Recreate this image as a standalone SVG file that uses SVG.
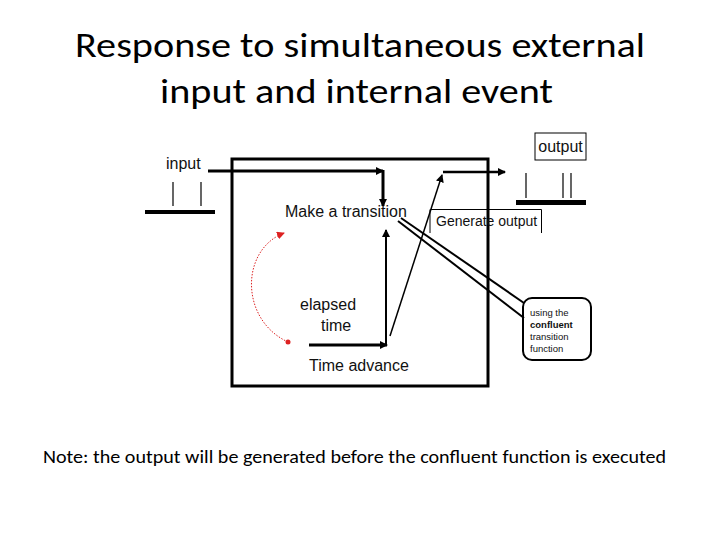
<svg xmlns="http://www.w3.org/2000/svg" width="720" height="540" viewBox="0 0 720 540">
<defs>
<style>
.t{font-family:"Liberation Sans",Arial,sans-serif;fill:#111}
.ttl{font-family:Carlito,Calibri,"Liberation Sans",sans-serif;fill:#000}
.ln{stroke:#000;fill:none}
</style>
<marker id="ah" markerWidth="8" markerHeight="8" refX="7" refY="4" orient="auto" markerUnits="userSpaceOnUse">
<path d="M0,0 L8,4 L0,8 Z" fill="#000"/>
</marker>
<marker id="ahr" markerWidth="8" markerHeight="8" refX="7" refY="4" orient="auto" markerUnits="userSpaceOnUse">
<path d="M0,0 L8,4 L0,8 Z" fill="#d22"/>
</marker>
</defs>
<rect width="720" height="540" fill="#fff"/>
<g id="title">
<text class="ttl" x="75" y="57" font-size="35" textLength="570" lengthAdjust="spacingAndGlyphs">Response to simultaneous external</text>
<text class="ttl" x="160" y="103" font-size="35" textLength="393" lengthAdjust="spacingAndGlyphs">input and internal event</text>
</g>
<g id="model-box">
<rect x="232" y="159" width="256" height="227" fill="none" stroke="#000" stroke-width="3"/>
</g>
<g id="input">
<text class="t" x="166" y="169" font-size="16">input</text>
<line class="ln" x1="173" y1="182" x2="173" y2="206" stroke-width="1.2"/>
<line class="ln" x1="201" y1="182" x2="201" y2="206" stroke-width="1.2"/>
<line class="ln" x1="145" y1="212" x2="215" y2="212" stroke-width="4"/>
</g>
<g id="output">
<rect x="535" y="133" width="51" height="27" fill="#fff" stroke="#000" stroke-width="1"/>
<text class="t" x="560.5" y="152" font-size="16" text-anchor="middle">output</text>
<line class="ln" x1="526" y1="173" x2="526" y2="198" stroke-width="1.2"/>
<line class="ln" x1="563" y1="173" x2="563" y2="198" stroke-width="1.2"/>
<line class="ln" x1="571" y1="173" x2="571" y2="198" stroke-width="1.2"/>
<line class="ln" x1="516" y1="202.5" x2="586" y2="202.5" stroke-width="5"/>
</g>
<g id="make-transition">
<text class="t" x="285" y="217" font-size="16">Make a transition</text>
</g>
<g id="generate-output">
<path class="ln" d="M430,233 V209.5 H541.5 V233" stroke-width="1"/>
<text class="t" x="436" y="226" font-size="14">Generate output</text>
</g>
<g id="elapsed">
<text class="t" x="300" y="310" font-size="16">elapsed</text>
<text class="t" x="321" y="331" font-size="16">time</text>
</g>
<g id="time-advance">
<text class="t" x="309" y="371" font-size="16">Time advance</text>
</g>
<g id="callout">
<rect x="523" y="298" width="68" height="62" rx="9" ry="9" fill="#fff" stroke="#000" stroke-width="2"/>
<text class="t" x="530" y="316" font-size="9.5">using the</text>
<text class="t" x="530" y="328" font-size="9.5" font-weight="bold">confluent</text>
<text class="t" x="530" y="340" font-size="9.5">transition</text>
<text class="t" x="530" y="352" font-size="9.5">function</text>
</g>
<g id="connectors">
<path class="ln" d="M208,171 H383" stroke-width="3" marker-end="url(#ah)"/>
<path class="ln" d="M383,170 V206" stroke-width="3" marker-end="url(#ah)"/>
<path class="ln" d="M309,345 H387" stroke-width="3" marker-end="url(#ah)"/>
<path class="ln" d="M386,345 V230" stroke-width="2" marker-end="url(#ah)"/>
<path class="ln" d="M390,336 L442,175" stroke-width="1.5" marker-end="url(#ah)"/>
<path class="ln" d="M443,172 H505" stroke-width="2.5" marker-end="url(#ah)"/>
<line class="ln" x1="401" y1="218" x2="524" y2="303" stroke-width="2"/>
<line class="ln" x1="398" y1="221" x2="524" y2="318" stroke-width="2"/>
<path d="M288,342 C240,320 240,250 284,233" fill="none" stroke="#d22" stroke-width="1" stroke-dasharray="1.5,1.5" marker-end="url(#ahr)"/>
<circle cx="288" cy="342" r="2.5" fill="#d22"/>
</g>
<g id="note">
<text class="ttl" x="43" y="463" font-size="19" textLength="623" lengthAdjust="spacingAndGlyphs">Note: the output will be generated before the confluent function is executed</text>
</g>
</svg>
